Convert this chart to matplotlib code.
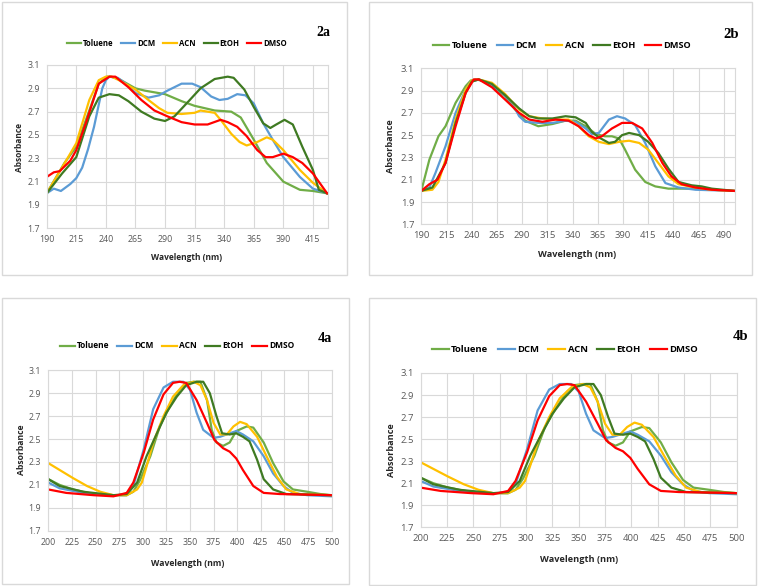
import matplotlib
matplotlib.use("Agg")
import matplotlib.pyplot as plt
from matplotlib.patches import Rectangle

W, H = 758, 586

solvents = ["Toluene", "DCM", "ACN", "EtOH", "DMSO"]
colors = ["#70AD47", "#5B9BD5", "#FFC000", "#3F7A22", "#FF0000"]

# ---- panel 2a ----
x2a_tol = [190, 205, 215, 226, 234, 241, 244, 251, 265, 273, 290, 304, 315, 332, 346, 354, 365, 376, 390, 404, 415, 427]
y2a_tol = [2.00, 2.26, 2.40, 2.71, 2.94, 3.00, 3.00, 2.98, 2.90, 2.88, 2.85, 2.79, 2.75, 2.71, 2.70, 2.65, 2.46, 2.26, 2.10, 2.03, 2.02, 2.00]
x2a_dcm = [190, 196, 202, 210, 215, 220, 225, 230, 234, 237, 240, 243, 250, 257, 265, 276, 285, 292, 304, 313, 320, 329, 336, 343, 351, 358, 365, 373, 381, 390, 404, 415, 427]
y2a_dcm = [2.00, 2.04, 2.02, 2.08, 2.13, 2.22, 2.38, 2.57, 2.76, 2.90, 2.97, 3.00, 2.99, 2.94, 2.86, 2.82, 2.84, 2.88, 2.94, 2.94, 2.91, 2.83, 2.80, 2.81, 2.85, 2.84, 2.77, 2.60, 2.46, 2.31, 2.14, 2.04, 2.00]
x2a_acn = [190, 203, 215, 226, 234, 240, 245, 251, 265, 276, 285, 292, 304, 315, 320, 332, 337, 346, 353, 359, 368, 376, 381, 390, 404, 415, 427]
y2a_acn = [2.00, 2.22, 2.43, 2.80, 2.97, 3.00, 3.00, 2.97, 2.89, 2.80, 2.73, 2.69, 2.68, 2.69, 2.71, 2.69, 2.63, 2.51, 2.44, 2.41, 2.44, 2.48, 2.46, 2.37, 2.20, 2.09, 2.00]
x2a_etoh = [190, 203, 215, 226, 234, 243, 251, 259, 270, 281, 290, 298, 310, 320, 332, 343, 348, 357, 365, 373, 379, 384, 391, 398, 406, 415, 420, 427]
y2a_etoh = [2.00, 2.17, 2.31, 2.66, 2.82, 2.85, 2.84, 2.79, 2.70, 2.64, 2.62, 2.66, 2.79, 2.90, 2.98, 3.00, 2.99, 2.89, 2.74, 2.60, 2.56, 2.59, 2.63, 2.59, 2.40, 2.20, 2.03, 2.00]
x2a_dmso = [190, 196, 201, 210, 215, 223, 234, 243, 248, 259, 270, 281, 292, 304, 315, 326, 337, 343, 351, 359, 368, 375, 381, 390, 398, 406, 415, 427]
y2a_dmso = [2.14, 2.18, 2.19, 2.28, 2.37, 2.60, 2.94, 3.00, 3.00, 2.91, 2.80, 2.71, 2.66, 2.61, 2.59, 2.59, 2.63, 2.61, 2.57, 2.49, 2.37, 2.31, 2.31, 2.34, 2.31, 2.26, 2.17, 2.00]

# ---- panel 2b ----
x2b_tol = [190, 198, 207, 214, 224, 234, 239, 244, 250, 260, 273, 283, 293, 306, 320, 333, 343, 353, 363, 372, 379, 386, 392, 402, 412, 422, 435, 460, 500]
y2b_tol = [2.00, 2.28, 2.49, 2.58, 2.79, 2.94, 2.99, 3.00, 2.99, 2.94, 2.85, 2.73, 2.63, 2.58, 2.60, 2.63, 2.63, 2.58, 2.51, 2.49, 2.49, 2.47, 2.37, 2.19, 2.08, 2.04, 2.02, 2.02, 2.00]
x2b_dcm = [190, 198, 204, 214, 224, 234, 239, 247, 257, 270, 280, 287, 293, 306, 320, 333, 343, 353, 359, 366, 376, 384, 392, 402, 412, 422, 432, 445, 462, 500]
y2b_dcm = [2.00, 2.03, 2.16, 2.40, 2.70, 2.91, 2.98, 3.00, 2.97, 2.88, 2.79, 2.67, 2.62, 2.61, 2.61, 2.63, 2.62, 2.56, 2.51, 2.52, 2.64, 2.67, 2.65, 2.59, 2.43, 2.22, 2.07, 2.03, 2.01, 2.00]
x2b_acn = [190, 201, 207, 214, 224, 234, 240, 247, 260, 273, 287, 297, 310, 323, 336, 346, 356, 366, 376, 386, 396, 406, 415, 425, 435, 445, 462, 478, 500]
y2b_acn = [2.00, 2.01, 2.08, 2.28, 2.64, 2.91, 2.99, 3.00, 2.97, 2.87, 2.73, 2.67, 2.65, 2.64, 2.64, 2.58, 2.49, 2.44, 2.42, 2.44, 2.45, 2.43, 2.37, 2.25, 2.13, 2.06, 2.03, 2.01, 2.00]
x2b_etoh = [190, 201, 214, 224, 234, 240, 247, 260, 273, 287, 297, 306, 320, 333, 343, 353, 359, 366, 376, 382, 389, 396, 406, 415, 425, 435, 445, 458, 468, 478, 500]
y2b_etoh = [2.00, 2.03, 2.25, 2.61, 2.88, 2.98, 3.00, 2.96, 2.86, 2.74, 2.67, 2.65, 2.65, 2.67, 2.66, 2.61, 2.53, 2.48, 2.43, 2.44, 2.50, 2.52, 2.50, 2.44, 2.34, 2.20, 2.08, 2.05, 2.04, 2.02, 2.00]
x2b_dmso = [190, 198, 206, 214, 224, 234, 242, 247, 260, 273, 287, 297, 310, 323, 336, 346, 356, 363, 369, 379, 389, 399, 409, 419, 429, 438, 448, 462, 478, 500]
y2b_dmso = [2.00, 2.06, 2.10, 2.25, 2.58, 2.88, 3.00, 3.00, 2.93, 2.82, 2.70, 2.64, 2.62, 2.64, 2.63, 2.58, 2.50, 2.47, 2.49, 2.56, 2.61, 2.61, 2.56, 2.43, 2.25, 2.13, 2.06, 2.03, 2.01, 2.00]

# ---- panels 4a / 4b (same spectra) ----
x4_tol = [200, 212, 226, 248, 269, 283, 290, 297, 308, 318, 329, 339, 346, 354, 361, 368, 373, 378, 385, 392, 399, 410, 417, 428, 438, 449, 459, 474, 488, 500]
y4_tol = [2.15, 2.10, 2.06, 2.02, 2.01, 2.01, 2.04, 2.14, 2.35, 2.61, 2.79, 2.93, 2.99, 3.00, 3.00, 2.84, 2.58, 2.47, 2.44, 2.47, 2.57, 2.61, 2.60, 2.47, 2.29, 2.13, 2.06, 2.04, 2.02, 2.01]
x4_dcm = [200, 212, 237, 269, 283, 290, 301, 311, 322, 332, 343, 350, 357, 364, 375, 382, 392, 399, 406, 417, 428, 438, 449, 459, 474, 500]
y4_dcm = [2.12, 2.07, 2.03, 2.01, 2.01, 2.09, 2.41, 2.76, 2.95, 3.00, 3.00, 2.93, 2.73, 2.58, 2.51, 2.52, 2.55, 2.57, 2.54, 2.48, 2.35, 2.20, 2.09, 2.03, 2.01, 2.00]
x4_acn = [200, 212, 226, 241, 255, 269, 283, 294, 299, 304, 311, 322, 332, 343, 354, 361, 368, 375, 382, 389, 396, 403, 410, 421, 431, 442, 452, 466, 500]
y4_acn = [2.29, 2.23, 2.16, 2.09, 2.04, 2.01, 2.01, 2.06, 2.12, 2.26, 2.47, 2.70, 2.87, 2.97, 3.00, 2.97, 2.84, 2.64, 2.54, 2.54, 2.61, 2.65, 2.63, 2.52, 2.35, 2.17, 2.06, 2.02, 2.01]
x4_etoh = [200, 212, 237, 269, 283, 294, 304, 315, 325, 336, 346, 357, 364, 371, 378, 384, 392, 399, 406, 413, 421, 428, 438, 452, 500]
y4_etoh = [2.15, 2.09, 2.04, 2.01, 2.02, 2.12, 2.35, 2.55, 2.73, 2.87, 2.97, 3.00, 3.00, 2.90, 2.70, 2.55, 2.54, 2.55, 2.52, 2.48, 2.32, 2.15, 2.06, 2.02, 2.01]
x4_dmso = [200, 219, 248, 269, 283, 290, 301, 311, 322, 332, 339, 346, 357, 368, 376, 385, 392, 399, 406, 417, 428, 445, 500]
y4_dmso = [2.06, 2.03, 2.01, 2.00, 2.03, 2.12, 2.38, 2.67, 2.89, 2.99, 3.00, 2.99, 2.84, 2.64, 2.49, 2.42, 2.39, 2.33, 2.23, 2.09, 2.03, 2.02, 2.01]

yticks = [1.7, 1.9, 2.1, 2.3, 2.5, 2.7, 2.9, 3.1]
xticks_2a = list(range(190, 416, 25))
xticks_2b = list(range(190, 491, 25))
xticks_4 = list(range(200, 501, 25))

GRID = "#d9d9d9"
TICK = "#595959"
FONT = "Open Sans"


def fx(px):
    return px / W


def fy(py):
    return 1 - py / H


def draw_panel(fig, box, plot, series, xlim, xticks, label, label_pos,
               leg_pos, xlab_pos, ylab_pos, fs, lfs, tfs):
    # panel frame
    bx0, by0, bx1, by1 = box
    fig.patches.append(Rectangle((fx(bx0), fy(by1)), fx(bx1 - bx0), (by1 - by0) / H,
                                 transform=fig.transFigure, fill=False,
                                 edgecolor=GRID, linewidth=1.0))
    l, t, r, b = plot
    ax = fig.add_axes([fx(l), fy(b), fx(r - l), (b - t) / H])
    for (xs, ys), name, c in zip(series, solvents, colors):
        ax.plot(xs, ys, color=c, lw=1.6, label=name, solid_joinstyle="round")
    ax.set_xlim(*xlim)
    ax.set_ylim(1.7, 3.1)
    ax.set_xticks(xticks)
    ax.set_yticks(yticks)
    ax.set_yticklabels([f"{v:.1f}" for v in yticks])
    ax.grid(True, color=GRID, lw=0.8)
    ax.set_axisbelow(True)
    for s in ax.spines.values():
        s.set_color(GRID)
        s.set_linewidth(0.8)
    ax.tick_params(length=0, labelsize=tfs, labelcolor=TICK, pad=5)
    for lab in ax.get_xticklabels() + ax.get_yticklabels():
        lab.set_family(FONT)

    ax.legend(loc="center", bbox_to_anchor=(fx(leg_pos[0]), fy(leg_pos[1])),
              bbox_transform=fig.transFigure, ncol=5, frameon=False,
              handlelength=1.8, columnspacing=1.0, handletextpad=0.25,
              borderpad=0.1, prop={"family": FONT, "weight": "bold", "size": lfs})
    fig.text(fx(label_pos[0]), fy(label_pos[1]), label, ha="center", va="center",
             family="Liberation Serif", weight="bold", size=fs + 4)
    fig.text(fx(xlab_pos[0]), fy(xlab_pos[1]), "Wavelength (nm)", ha="center",
             va="center", family=FONT, weight="bold", size=fs, color="#262626")
    fig.text(fx(ylab_pos[0]), fy(ylab_pos[1]), "Absorbance", ha="center",
             va="center", rotation=90, family=FONT, weight="bold", size=fs,
             color="#262626")
    return ax


fig = plt.figure(figsize=(W / 100, H / 100), dpi=100)

draw_panel(fig, (2, 2, 347, 275), (46.7, 65, 328.3, 228.3),
           [(x2a_tol, y2a_tol), (x2a_dcm, y2a_dcm), (x2a_acn, y2a_acn),
            (x2a_etoh, y2a_etoh), (x2a_dmso, y2a_dmso)],
           (190, 428), xticks_2a, "2a", (323, 32), (177, 43), (187, 257), (19, 147), 6.0, 5.6, 6.4)

draw_panel(fig, (369, 2, 752, 275), (421.3, 68.3, 735, 224.3),
           [(x2b_tol, y2b_tol), (x2b_dcm, y2b_dcm), (x2b_acn, y2b_acn),
            (x2b_etoh, y2b_etoh), (x2b_dmso, y2b_dmso)],
           (190, 501), xticks_2b, "2b", (731, 34), (562, 46), (577, 255), (390, 146), 6.6, 6.6, 6.8)

series4 = [(x4_tol, y4_tol), (x4_dcm, y4_dcm), (x4_acn, y4_acn),
           (x4_etoh, y4_etoh), (x4_dmso, y4_dmso)]

draw_panel(fig, (2, 298, 349, 584), (48.3, 370.3, 331.7, 530.7), series4,
           (200, 500), xticks_4, "4a", (325, 338), (177, 346), (188, 563), (21, 450), 6.2, 6.0, 6.4)

draw_panel(fig, (369, 298, 756, 585), (420.7, 373, 736.7, 527.3), series4,
           (200, 500), xticks_4, "4b", (741, 336), (565, 350), (579, 560), (391, 450), 6.6, 6.8, 6.8)

fig.savefig("out.png", dpi=100)
